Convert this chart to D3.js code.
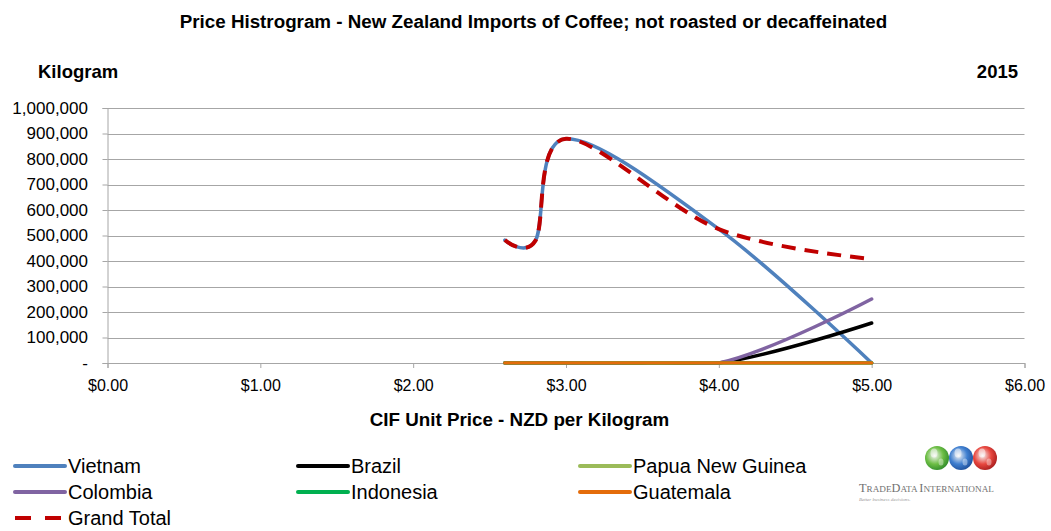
<!DOCTYPE html>
<html>
<head>
<meta charset="utf-8">
<script src="https://cdn.jsdelivr.net/npm/d3@7"></script>
<style>
  html, body { margin: 0; padding: 0; background: #fff; }
  svg { display: block; }
  text { font-family: "Liberation Sans", Arial, sans-serif; }
</style>
</head>
<body>
<svg id="chart" width="1051" height="531"></svg>
<script>
// Price points (NZD per kilogram) for each bin
const prices = [2.6, 2.8, 3.0, 4.0, 5.0];

// Kilograms imported per price point, by origin
const vietnam    = [482000, 480000, 879000, 525000, 0];
const brazil     = [0, 0, 0, 0, 157000];
const papuaNG    = [0, 0, 0, 0, 0];
const colombia   = [0, 0, 0, 0, 251000];
const indonesia  = [0, 0, 0, 0, 0];
const guatemala  = [0, 0, 0, 0, 0];
const grandTotal = [482000, 480000, 879000, 525000, 408000];

const xTicks = [0, 1, 2, 3, 4, 5, 6];
const yTicks = [0, 100000, 200000, 300000, 400000, 500000, 600000, 700000, 800000, 900000, 1000000];

const series = [
  { name: "Vietnam",          values: vietnam,    color: "#4F81BD" },
  { name: "Brazil",           values: brazil,     color: "#000000" },
  { name: "Papua New Guinea", values: papuaNG,    color: "#9BBB59" },
  { name: "Colombia",         values: colombia,   color: "#8064A2" },
  { name: "Indonesia",        values: indonesia,  color: "#00B050" },
  { name: "Guatemala",        values: guatemala,  color: "#E46C0A" },
  { name: "Grand Total",      values: grandTotal, color: "#C00000", dashed: true }
];

const svg = d3.select("#chart");

const x = d3.scaleLinear().domain([0, 6]).range([107.5, 1024.5]);
const y = d3.scaleLinear().domain([0, 1000000]).range([363, 108]);

// Title and axis captions
svg.append("text").attr("x", 533.5).attr("y", 27.5).attr("text-anchor", "middle")
  .style("font-weight", "bold").style("font-size", "18.8px").attr("fill", "#000")
  .text("Price Histrogram - New Zealand Imports of Coffee; not roasted or decaffeinated");
svg.append("text").attr("x", 38).attr("y", 77.5)
  .style("font-weight", "bold").style("font-size", "18.5px").text("Kilogram");
svg.append("text").attr("x", 1018).attr("y", 77.5).attr("text-anchor", "end")
  .style("font-weight", "bold").style("font-size", "18.5px").text("2015");
svg.append("text").attr("x", 519.5).attr("y", 426).attr("text-anchor", "middle")
  .style("font-weight", "bold").style("font-size", "18.8px").text("CIF Unit Price - NZD per Kilogram");

// Horizontal gridlines
svg.append("g").selectAll("line").data(yTicks.filter(d => d > 0)).join("line")
  .attr("x1", x(0)).attr("x2", x(6))
  .attr("y1", d => Math.round(y(d)) + 0.5).attr("y2", d => Math.round(y(d)) + 0.5)
  .attr("stroke", "#A6A6A6").attr("stroke-width", 1);

// Y axis
const yAxis = d3.axisLeft(y).tickValues(yTicks).tickSize(5).tickPadding(14.5)
  .tickFormat(d => d === 0 ? "-" : d3.format(",")(d));
const gy = svg.append("g").attr("transform", `translate(${x(0)},0)`).call(yAxis);
gy.select(".domain").attr("stroke", "#A6A6A6");
gy.selectAll(".tick line").attr("stroke", "#A6A6A6");
gy.selectAll(".tick text").style("font-size", "17px").style("font-family", "'Liberation Sans', Arial, sans-serif").attr("fill", "#000");

// X axis
const xAxis = d3.axisBottom(x).tickValues(xTicks).tickSize(5).tickPadding(12)
  .tickFormat(d => "$" + d3.format(".2f")(d));
const gx = svg.append("g").attr("transform", `translate(0,${y(0)})`).call(xAxis);
gx.select(".domain").attr("stroke", "#A6A6A6");
gx.selectAll(".tick line").attr("stroke", "#A6A6A6");
gx.selectAll(".tick text").style("font-size", "16px").style("font-family", "'Liberation Sans', Arial, sans-serif").attr("fill", "#000");

// Plot area clip: nothing is drawn below the zero baseline stroke
const defs = svg.append("defs");
defs.append("clipPath").attr("id", "plot-clip")
  .append("rect").attr("x", x(0)).attr("y", 0)
  .attr("width", x(6) - x(0)).attr("height", y(0) + 1.75);

// Smoothed series lines
const line = d3.line()
  .x(d => x(d[0])).y(d => y(d[1]))
  .curve(d3.curveCardinal.tension(0));

svg.append("g").attr("clip-path", "url(#plot-clip)")
  .selectAll("path").data(series).join("path")
  .attr("d", s => line(prices.map((p, i) => [p, s.values[i]])))
  .attr("fill", "none")
  .attr("stroke", s => s.color)
  .attr("stroke-width", s => s.dashed ? 4 : 3.5)
  .attr("stroke-dasharray", s => s.dashed ? "14,9" : null)
  .attr("stroke-linecap", s => s.dashed ? "butt" : "round");

// Legend: three columns, rows filled left to right
const legend = svg.append("g");
const colX = [15, 298, 580];
const rowY = [466, 492, 518];
series.forEach((s, i) => {
  const cx = colX[i % 3], cy = rowY[Math.floor(i / 3)];
  const g = legend.append("g");
  if (s.dashed) {
    g.append("line").attr("x1", cx).attr("x2", cx + 50).attr("y1", cy).attr("y2", cy)
      .attr("stroke", s.color).attr("stroke-width", 4).attr("stroke-dasharray", "16,14");
  } else {
    g.append("line").attr("x1", cx).attr("x2", cx + 50).attr("y1", cy).attr("y2", cy)
      .attr("stroke", s.color).attr("stroke-width", 4).attr("stroke-linecap", "round");
  }
  g.append("text").attr("x", cx + 53).attr("y", cy + 7)
    .style("font-size", "20px").attr("fill", "#000").text(s.name);
});

// TradeData International logo
const globes = [
  { cx: 937, color: "#6DBE45", dark: "#2F8A2A" },
  { cx: 961, color: "#3F7FD0", dark: "#1E4F9A" },
  { cx: 985, color: "#E8473F", dark: "#A81E1E" }
];
globes.forEach((gl, i) => {
  const grad = defs.append("radialGradient").attr("id", "globe" + i)
    .attr("cx", "40%").attr("cy", "40%").attr("r", "65%");
  grad.append("stop").attr("offset", "0%").attr("stop-color", "#f4f4f4");
  grad.append("stop").attr("offset", "55%").attr("stop-color", gl.color);
  grad.append("stop").attr("offset", "100%").attr("stop-color", gl.dark);
  const lg = svg.append("g");
  lg.append("circle").attr("cx", gl.cx).attr("cy", 458).attr("r", 12)
    .attr("fill", `url(#globe${i})`);
  lg.append("ellipse").attr("cx", gl.cx - 3).attr("cy", 453).attr("rx", 3.5).attr("ry", 4.5)
    .attr("fill", "#ffffff").attr("opacity", 0.5);
  lg.append("ellipse").attr("cx", gl.cx + 4).attr("cy", 462).attr("rx", 2.5).attr("ry", 3.5)
    .attr("fill", "#ffffff").attr("opacity", 0.4);
});
const brand = svg.append("text").attr("x", 859).attr("y", 492)
  .style("font-family", "'Liberation Serif', 'Times New Roman', serif").attr("fill", "#707070");
[["T", 12.3], ["RADE", 9.2], ["D", 12.3], ["ATA ", 9.2], ["I", 12.3], ["NTERNATIONAL", 9.2]].forEach(([t, s]) => {
  brand.append("tspan").style("font-size", s + "px").text(t);
});
svg.append("text").attr("x", 859).attr("y", 501)
  .style("font-family", "'Liberation Serif', serif").style("font-style", "italic")
  .style("font-size", "5px").attr("fill", "#999").text("Better business decisions.");
</script>
</body>
</html>
